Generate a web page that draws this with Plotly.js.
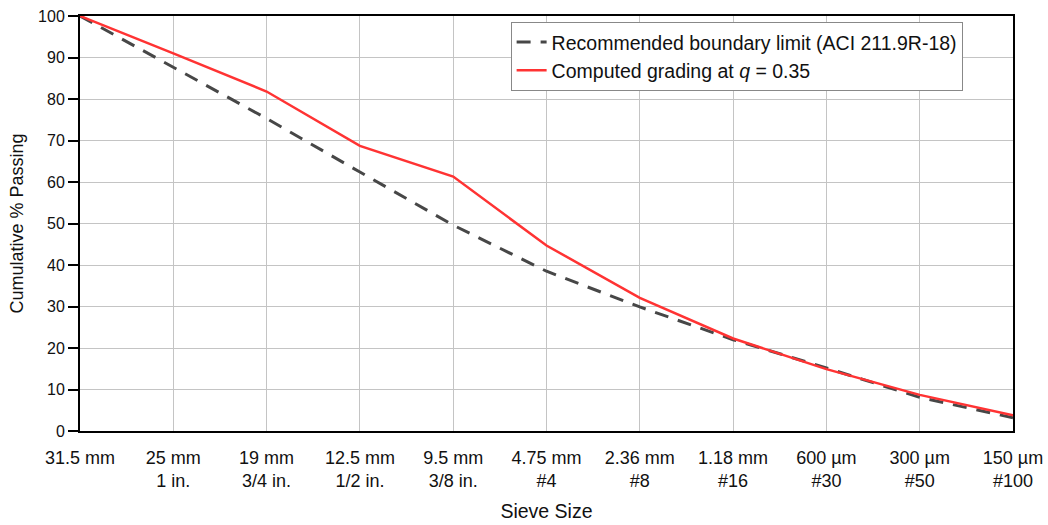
<!DOCTYPE html>
<html>
<head>
<meta charset="utf-8">
<script src="https://cdn.plot.ly/plotly-3.0.1.min.js"></script>
<style>html,body{margin:0;padding:0;background:#fff;}#chart{width:1048px;height:525px;}</style>
</head>
<body>
<div id="chart"></div>
<script>
const sieveSizes = ["31.5 mm","25 mm<br>1 in.","19 mm<br>3/4 in.","12.5 mm<br>1/2 in.","9.5 mm<br>3/8 in.","4.75 mm<br>#4","2.36 mm<br>#8","1.18 mm<br>#16","600 µm<br>#30","300 µm<br>#50","150 µm<br>#100"];
const boundaryLimit = [100, 87.6, 75.3, 62.4, 49.6, 38.5, 29.9, 22.0, 15.2, 8.1, 3.2];
const computedGrading = [100, 91.0, 81.8, 68.7, 61.3, 44.7, 32.1, 22.3, 14.9, 8.7, 3.8];
const yTicks = [0,10,20,30,40,50,60,70,80,90,100];
const xIdx = sieveSizes.map((_, i) => i);

const traces = [
  {x: xIdx, y: boundaryLimit, mode: 'lines', name: 'Recommended boundary limit (ACI 211.9R-18)',
   line: {color: '#474747', width: 3, dash: '14px,10px'}},
  {x: xIdx, y: computedGrading, mode: 'lines', name: 'Computed grading at <i>q</i> = 0.35',
   line: {color: '#ff3333', width: 2.5}}
];

const layout = {
  width: 1048, height: 525,
  margin: {l: 80, r: 35, t: 16, b: 94},
  paper_bgcolor: '#fff', plot_bgcolor: '#fff',
  font: {family: 'Liberation Sans, Arial, sans-serif', size: 16, color: '#111'},
  showlegend: true,
  legend: {x: 0.946, xanchor: 'right', y: 0.986, yanchor: 'top',
    bgcolor: '#fff', bordercolor: '#888', borderwidth: 1,
    font: {size: 19.5, color: '#111'}, tracegroupgap: 0},
  xaxis: {
    range: [0, 10], tickmode: 'array', tickvals: xIdx, ticktext: sieveSizes,
    showgrid: true, gridcolor: '#c4c4c4', gridwidth: 1,
    showline: true, linecolor: '#000', linewidth: 2, mirror: true,
    ticks: '', zeroline: false, ticklabelstandoff: 9,
    tickfont: {size: 18},
    title: {text: 'Sieve Size', font: {size: 19.5}, standoff: 14}
  },
  yaxis: {
    range: [0, 100], tickmode: 'array', tickvals: yTicks,
    showgrid: true, gridcolor: '#c4c4c4', gridwidth: 1,
    showline: true, linecolor: '#000', linewidth: 2, mirror: true,
    ticks: 'outside', ticklen: 10, tickwidth: 2, tickcolor: '#000',
    zeroline: false, tickfont: {size: 16},
    title: {text: 'Cumulative % Passing', font: {size: 18}, standoff: 10}
  }
};
Plotly.newPlot('chart', traces, layout, {displayModeBar: false, staticPlot: true});
</script>
</body>
</html>
